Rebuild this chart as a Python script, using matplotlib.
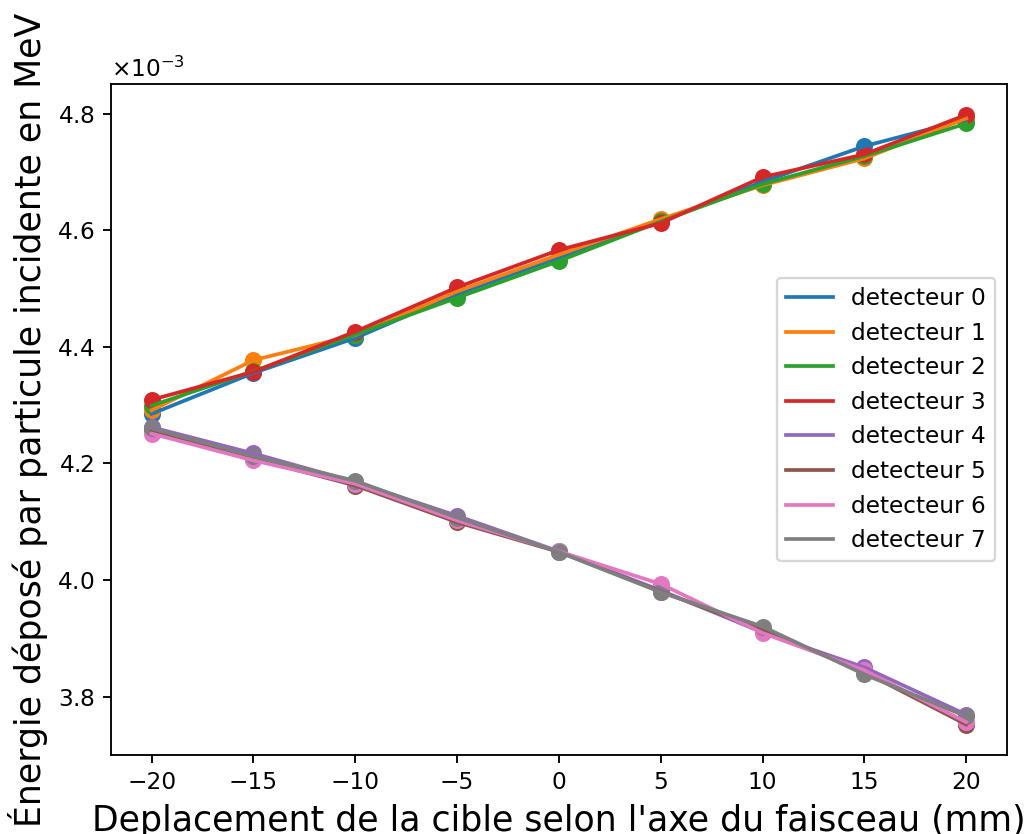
import numpy as np
import matplotlib
matplotlib.use("Agg")
import matplotlib.pyplot as plt

# deplacement de la cible (mm)
positions = [-20, -15, -10, -5, 0, 5, 10, 15, 20]

# energie deposee par particule incidente (x1e-3 MeV)
det0 = [4.285, 4.355, 4.415, 4.490, 4.553, 4.615, 4.683, 4.744, 4.790]
det1 = [4.291, 4.377, 4.420, 4.495, 4.558, 4.619, 4.677, 4.723, 4.792]
det2 = [4.299, 4.358, 4.421, 4.484, 4.547, 4.615, 4.679, 4.727, 4.783]
det3 = [4.309, 4.357, 4.426, 4.502, 4.566, 4.612, 4.691, 4.730, 4.798]
det4 = [4.262, 4.217, 4.168, 4.110, 4.049, 3.982, 3.910, 3.850, 3.769]
det5 = [4.257, 4.208, 4.162, 4.099, 4.048, 3.980, 3.915, 3.842, 3.752]
det6 = [4.251, 4.205, 4.165, 4.102, 4.049, 3.993, 3.909, 3.845, 3.756]
det7 = [4.260, 4.212, 4.170, 4.107, 4.048, 3.979, 3.920, 3.838, 3.766]

detecteurs = [det0, det1, det2, det3, det4, det5, det6, det7]

dpi = 167
fig = plt.figure(figsize=(1027 / dpi, 834 / dpi), dpi=dpi)
ax = fig.add_subplot(111)
fig.subplots_adjust(left=0.108, right=0.9805, top=0.899, bottom=0.0947)

x = np.array(positions)
for i, d in enumerate(detecteurs):
    e = np.array(d) * 1e-3
    c = "C%d" % i
    ax.scatter(x, e, color=c, s=40)
    ax.plot(x, e, color=c, lw=1.6, label="detecteur %d" % i)

ax.ticklabel_format(axis="y", style="sci", scilimits=(0, 0), useMathText=True)
ax.set_xlabel("Deplacement de la cible selon l'axe du faisceau (mm)", fontsize=15)
ax.set_ylabel("Énergie déposé par particule incidente en MeV", fontsize=15)
ax.legend(loc="center right")

fig.savefig("out.png", dpi=dpi)
